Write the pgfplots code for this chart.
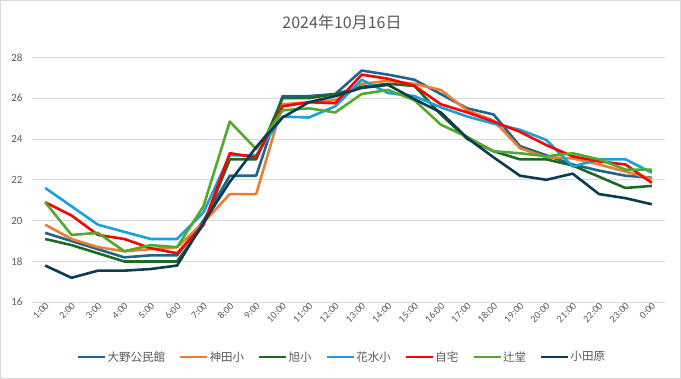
\documentclass[border=0pt]{standalone}
\usepackage{pgfplots}
\pgfplotsset{compat=1.18}
\usepackage{pgfplotstable}
\usepackage{fontspec}
\setmainfont{Carlito}
\newfontfamily\cjk{Noto Sans CJK JP}
\definecolor{gridgray}{HTML}{D9D9D9}
\definecolor{textgray}{HTML}{595959}
\definecolor{cA}{RGB}{31,100,140}
\definecolor{cB}{HTML}{ED7D31}
\definecolor{cC}{RGB}{30,105,35}
\definecolor{cD}{HTML}{17A2DC}
\definecolor{cE}{HTML}{FF0000}
\definecolor{cF}{HTML}{53A830}
\definecolor{cG}{HTML}{0D3B52}

\pgfplotstableread{
x A B C D E F G
0 19.4 19.8 19.1 21.6 20.9 20.9 17.8
1 19.0 19.1 18.8 20.7 20.25 19.3 17.2
2 18.6 18.7 18.4 19.8 19.3 19.4 17.55
3 18.2 18.5 18.0 19.45 19.1 18.5 17.55
4 18.3 18.6 18.0 19.1 18.65 18.8 17.63
5 18.3 18.7 18.0 19.1 18.4 18.7 17.8
6 20.0 19.9 19.8 20.4 19.8 20.7 19.9
7 22.2 21.3 23.0 23.2 23.3 24.85 21.9
8 22.2 21.3 23.0 23.2 23.1 23.5 23.6
9 26.1 25.7 26.0 25.1 25.6 25.4 25.05
10 26.1 25.8 26.0 25.05 25.8 25.5 25.8
11 26.2 25.9 26.2 25.6 25.75 25.3 26.1
12 27.35 26.7 26.55 26.9 27.15 26.2 26.5
13 27.15 26.85 26.7 26.25 26.95 26.4 26.65
14 26.9 26.7 26.6 26.1 26.6 25.9 25.95
15 26.2 26.4 25.2 25.55 25.7 24.7 25.3
16 25.5 25.4 24.0 25.1 25.3 24.1 24.05
17 25.2 24.9 23.4 24.75 24.85 23.4 23.1
18 23.65 23.55 23.0 24.45 24.35 23.3 22.2
19 23.2 23.1 23.0 23.95 23.7 23.15 22.0
20 22.75 23.05 22.7 22.65 23.15 23.3 22.3
21 22.45 22.75 22.15 23.0 22.9 23.0 21.3
22 22.2 22.4 21.6 23.0 22.75 22.5 21.1
23 22.1 22.05 21.7 22.35 21.85 22.5 20.8
}\data

\begin{document}
\begin{tikzpicture}
\path[use as bounding box] (0,0) rectangle (681pt,379pt);
\draw[draw=gridgray, line width=1pt] (0.5pt,0.5pt) rectangle (680.5pt,378.5pt);
\begin{axis}[
  at={(32pt,76.7pt)}, anchor=south west,
  width=633pt, height=245pt, scale only axis,
  xmin=-0.5, xmax=23.5, ymin=16, ymax=28,
  ytick={16,18,...,28},
  xtick={0,...,23},
  xticklabels={1:00,2:00,3:00,4:00,5:00,6:00,7:00,8:00,9:00,10:00,11:00,12:00,13:00,14:00,15:00,16:00,17:00,18:00,19:00,20:00,21:00,22:00,23:00,0:00},
  axis line style={draw=none},
  ymajorgrids, grid style={gridgray, line width=0.8pt},
  major tick length=0pt,
  /pgf/number format/assume math mode=true,
  yticklabel style={font=\fontsize{11}{12}\selectfont, text=textgray, xshift=-6pt},
  xticklabel style={font=\fontsize{10}{11}\selectfont, text=textgray, rotate=45, anchor=east, inner sep=1pt, yshift=-3pt, xshift=1pt},
  legend style={at={(axis description cs:0.489,-0.223)}, anchor=center, draw=none,
    font=\cjk\fontsize{11.5}{13}\selectfont, text=textgray,
    /tikz/every even column/.append style={column sep=13pt},
    nodes={inner sep=1pt}},
  legend columns=-1,
  legend image code/.code={\draw[#1, line width=2.6pt] (0pt,0pt) -- (27pt,0pt);},
  every axis plot/.append style={line width=2.6pt, mark=none, line join=round},
]
\addplot[cA] table[x=x,y=A]{\data};
\addplot[cB] table[x=x,y=B]{\data};
\addplot[cC] table[x=x,y=C]{\data};
\addplot[cD] table[x=x,y=D]{\data};
\addplot[cE] table[x=x,y=E]{\data};
\addplot[cF] table[x=x,y=F]{\data};
\addplot[cG] table[x=x,y=G]{\data};
\legend{大野公民館,神田小,旭小,花水小,自宅,辻堂,小田原}
\end{axis}
\node[text=textgray, font=\cjk\fontsize{16}{18}\selectfont] at (342pt,357pt) {2024年10月16日};
\end{tikzpicture}
\end{document}
